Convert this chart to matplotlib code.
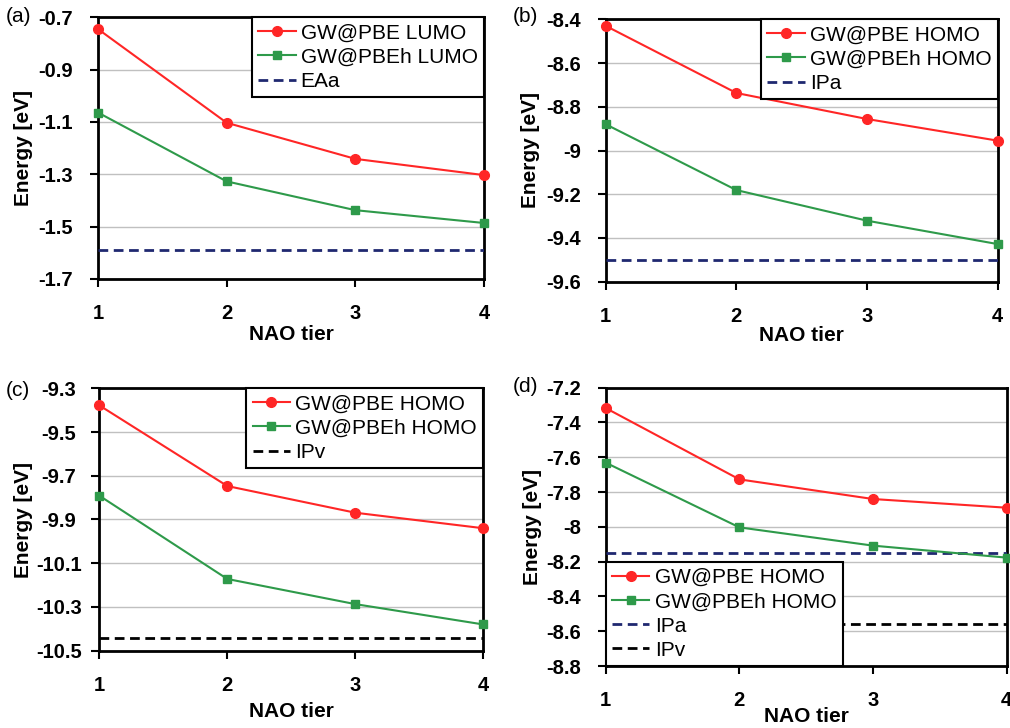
import matplotlib
matplotlib.use("Agg")
import matplotlib.pyplot as plt

plt.rcParams['font.family'] = ['Liberation Sans', 'DejaVu Sans']

# NAO basis tiers
tiers = [1, 2, 3, 4]

# (a) LUMO energies
a_pbe = [-0.745, -1.103, -1.241, -1.303]
a_pbeh = [-1.064, -1.327, -1.437, -1.486]
a_eaa = -1.59

# (b) HOMO energies
b_pbe = [-8.43, -8.737, -8.856, -8.955]
b_pbeh = [-8.88, -9.181, -9.321, -9.428]
b_ipa = -9.50

# (c) HOMO energies
c_pbe = [-9.378, -9.747, -9.869, -9.940]
c_pbeh = [-9.791, -10.172, -10.287, -10.380]
c_ipv = -10.44

# (d) HOMO energies
d_pbe = [-7.317, -7.727, -7.840, -7.890]
d_pbeh = [-7.631, -8.003, -8.108, -8.177]
d_ipa = -8.15
d_ipv = -8.56

RED = '#ff2626'
GREEN = '#2e9a4a'
NAVY = '#1f2870'

W, H = 1010, 728
fig = plt.figure(figsize=(W / 100, H / 100), dpi=100)


def box(l, t, r, b):
    # pixel box -> figure fraction
    return [l / W, 1 - b / H, (r - l) / W, (b - t) / H]


def panel(rect, pbe, pbeh, lines, ylim, yticks, ylabels, tag, tagxy,
          leg_loc, ylab_x, xlab_y, centered=False):
    ax = fig.add_axes(box(*rect))
    ax.plot(tiers, pbe, color=RED, lw=1.5, marker='o', ms=7,
            label=lines[0][0], zorder=4, clip_on=False)
    ax.plot(tiers, pbeh, color=GREEN, lw=1.5, marker='s', ms=5.5,
            label=lines[1][0], zorder=4, clip_on=False)
    for name, val, col in lines[2:]:
        ax.axhline(val, color=col, lw=2, ls=(0, (3.5, 2)), label=name, zorder=3)
    ax.set_xlim(1, 4)
    ax.set_ylim(*ylim)
    ax.set_xticks(tiers)
    ax.set_yticks(yticks)
    ax.set_yticklabels(ylabels)
    ax.grid(axis='y', color='#c0c0c0', lw=1)
    ax.set_axisbelow(True)
    for s in ax.spines.values():
        s.set_linewidth(2)
        s.set_color('black')
    ax.tick_params(direction='out', length=6, width=1.5, pad=12)
    for t in ax.get_xticklabels() + ax.get_yticklabels():
        t.set_fontweight('bold')
        t.set_fontsize(14.5)
    if centered:
        # this panel's y labels are centred in the source figure
        ax.tick_params(axis='y', pad=23)
        for t in ax.get_yticklabels():
            t.set_ha('center')
    ax.set_ylabel('Energy [eV]', fontsize=15, fontweight='bold')
    ax.set_xlabel('NAO tier', fontsize=15, fontweight='bold')
    ax.yaxis.set_label_coords(ylab_x, 0.5)
    ax.xaxis.set_label_coords(0.5, xlab_y)
    leg = ax.legend(loc=leg_loc, fontsize=15, frameon=True, fancybox=False,
                    framealpha=1, borderaxespad=0, handlelength=1.8,
                    handletextpad=0.25, labelspacing=0.25, borderpad=0.3)
    leg.get_frame().set_edgecolor('black')
    leg.get_frame().set_linewidth(1.5)
    leg.set_zorder(10)
    fig.text(tagxy[0] / W, 1 - tagxy[1] / H, tag, fontsize=15,
             ha='left', va='center')
    return ax


panel((98, 17.3, 484, 279), a_pbe, a_pbeh,
      [('GW@PBE LUMO',), ('GW@PBEh LUMO',), ('EAa', a_eaa, NAVY)],
      (-1.7, -0.7), [-1.7, -1.5, -1.3, -1.1, -0.9, -0.7],
      ['-1.7', '-1.5', '-1.3', '-1.1', '-0.9', '-0.7'],
      '(a)', (6, 16), 'upper right', -0.168, -0.176)

panel((605.7, 19.3, 997.7, 281.7), b_pbe, b_pbeh,
      [('GW@PBE HOMO',), ('GW@PBEh HOMO',), ('IPa', b_ipa, NAVY)],
      (-9.6, -8.4), [-9.6, -9.4, -9.2, -9.0, -8.8, -8.6, -8.4],
      ['-9.6', '-9.4', '-9.2', '-9', '-8.8', '-8.6', '-8.4'],
      '(b)', (513, 16), 'upper right', -0.168, -0.169)

panel((99.3, 388.3, 483.3, 650.7), c_pbe, c_pbeh,
      [('GW@PBE HOMO',), ('GW@PBEh HOMO',), ('IPv', c_ipv, 'black')],
      (-10.5, -9.3), [-10.5, -10.3, -10.1, -9.9, -9.7, -9.5, -9.3],
      ['-10.5', '-10.3', '-10.1', '-9.9', '-9.7', '-9.5', '-9.3'],
      '(c)', (6, 390), 'upper right', -0.173, -0.194, centered=True)

panel((605.7, 387.7, 1006.7, 666), d_pbe, d_pbeh,
      [('GW@PBE HOMO',), ('GW@PBEh HOMO',), ('IPa', d_ipa, NAVY),
       ('IPv', d_ipv, 'black')],
      (-8.8, -7.2), [-8.8, -8.6, -8.4, -8.2, -8.0, -7.8, -7.6, -7.4, -7.2],
      ['-8.8', '-8.6', '-8.4', '-8.2', '-8', '-7.8', '-7.6', '-7.4', '-7.2'],
      '(d)', (513, 387), 'lower left', -0.159, -0.147)

fig.savefig('out.png', dpi=100)
